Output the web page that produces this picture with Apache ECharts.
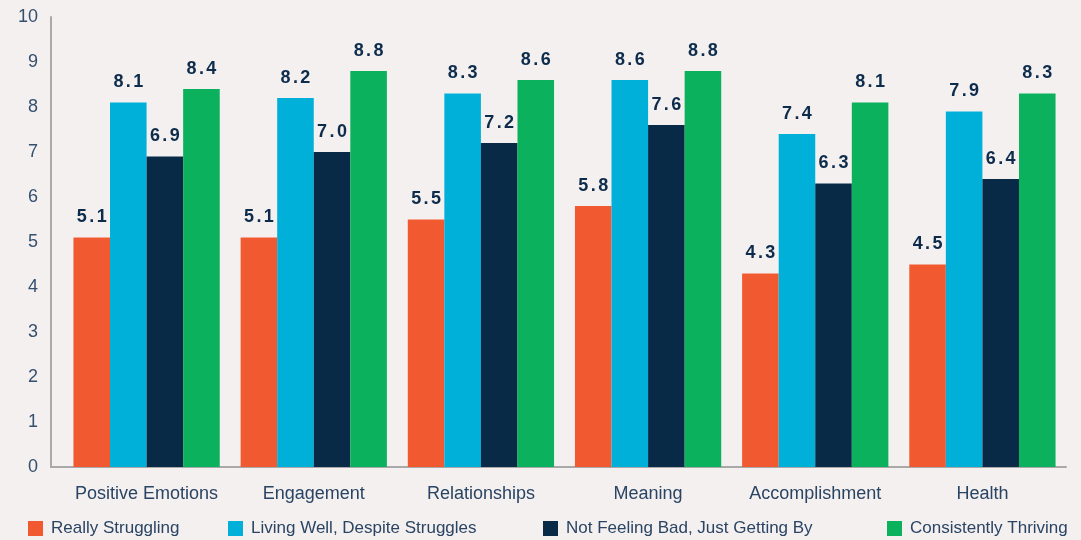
<!DOCTYPE html>
<html>
<head>
<meta charset="utf-8">
<script src="https://cdn.jsdelivr.net/npm/echarts@6/dist/echarts.min.js"></script>
<style>
  html, body { margin: 0; padding: 0; background: #f4f0f0; }
  #chart { width: 1081px; height: 540px; }
</style>
</head>
<body>
<div id="chart"></div>
<script>
// 各维度得分
const categories = ['Positive Emotions', 'Engagement', 'Relationships', 'Meaning', 'Accomplishment', 'Health']
const seriesNames = ['Really Struggling', 'Living Well, Despite Struggles', 'Not Feeling Bad, Just Getting By', 'Consistently Thriving']
const reallyStruggling = [5.1, 5.1, 5.5, 5.8, 4.3, 4.5]
const livingWell = [8.1, 8.2, 8.3, 8.6, 7.4, 7.9]
const notFeelingBad = [6.9, 7.0, 7.2, 7.6, 6.3, 6.4]
const thriving = [8.4, 8.8, 8.6, 8.8, 8.1, 8.3]

const colors = ['#f15a31', '#00b0d8', '#082a47', '#0bb15c']
const textColor = '#2a4463'
const legendLeft = [23, 223, 538, 882]

const myChart = echarts.init(document.getElementById('chart'))

function makeSeries(name, data) {
  return {
    name: name,
    type: 'bar',
    data: data,
    barGap: '0%',
    barCategoryGap: '12.5%',
    label: {
      show: true,
      position: 'top',
      distance: 11,
      // 字符间距：逐字放入 rich 片段
      formatter: p => p.value.toFixed(1).split('').map(c => '{d|' + c + '}').join(''),
      rich: {
        d: {
          color: '#0d2c4c',
          fontSize: 18,
          fontWeight: 'bold',
          fontFamily: 'Liberation Sans',
          padding: [0, 1.2, 0, 1.2]
        }
      }
    }
  }
}

const option = {
  backgroundColor: '#f4f0f0',
  color: colors,
  animation: false,
  grid: {
    left: 63,
    right: 15,
    top: 17,
    bottom: 73
  },
  legend: seriesNames.map((n, i) => ({
    left: legendLeft[i],
    top: 515,
    itemWidth: 15,
    itemHeight: 15,
    icon: 'rect',
    textStyle: {
      color: textColor,
      fontSize: 17,
      fontFamily: 'Liberation Sans',
      padding: [0, 0, 0, 3]
    },
    data: [n]
  })),
  xAxis: {
    type: 'category',
    data: categories,
    axisLine: { lineStyle: { color: '#a9a9a9', width: 2 } },
    axisTick: { show: false },
    axisLabel: {
      interval: 0,
      color: textColor,
      fontSize: 18,
      fontFamily: 'Liberation Sans',
      margin: 18
    }
  },
  yAxis: {
    type: 'value',
    min: 0,
    max: 10,
    interval: 1,
    offset: 12,
    axisLine: { show: true, lineStyle: { color: '#a9a9a9', width: 2 } },
    axisTick: { show: false },
    splitLine: { show: false },
    axisLabel: {
      color: '#34506e',
      fontSize: 18,
      fontFamily: 'Liberation Sans',
      margin: 13
    }
  },
  // 补上 y 轴与网格之间那段底线
  graphic: [{
    type: 'line',
    shape: { x1: 50, y1: 467, x2: 64, y2: 467 },
    style: { stroke: '#a9a9a9', lineWidth: 2 }
  }],
  series: [
    makeSeries(seriesNames[0], reallyStruggling),
    makeSeries(seriesNames[1], livingWell),
    makeSeries(seriesNames[2], notFeelingBad),
    makeSeries(seriesNames[3], thriving)
  ]
}

myChart.setOption(option)
</script>
</body>
</html>
